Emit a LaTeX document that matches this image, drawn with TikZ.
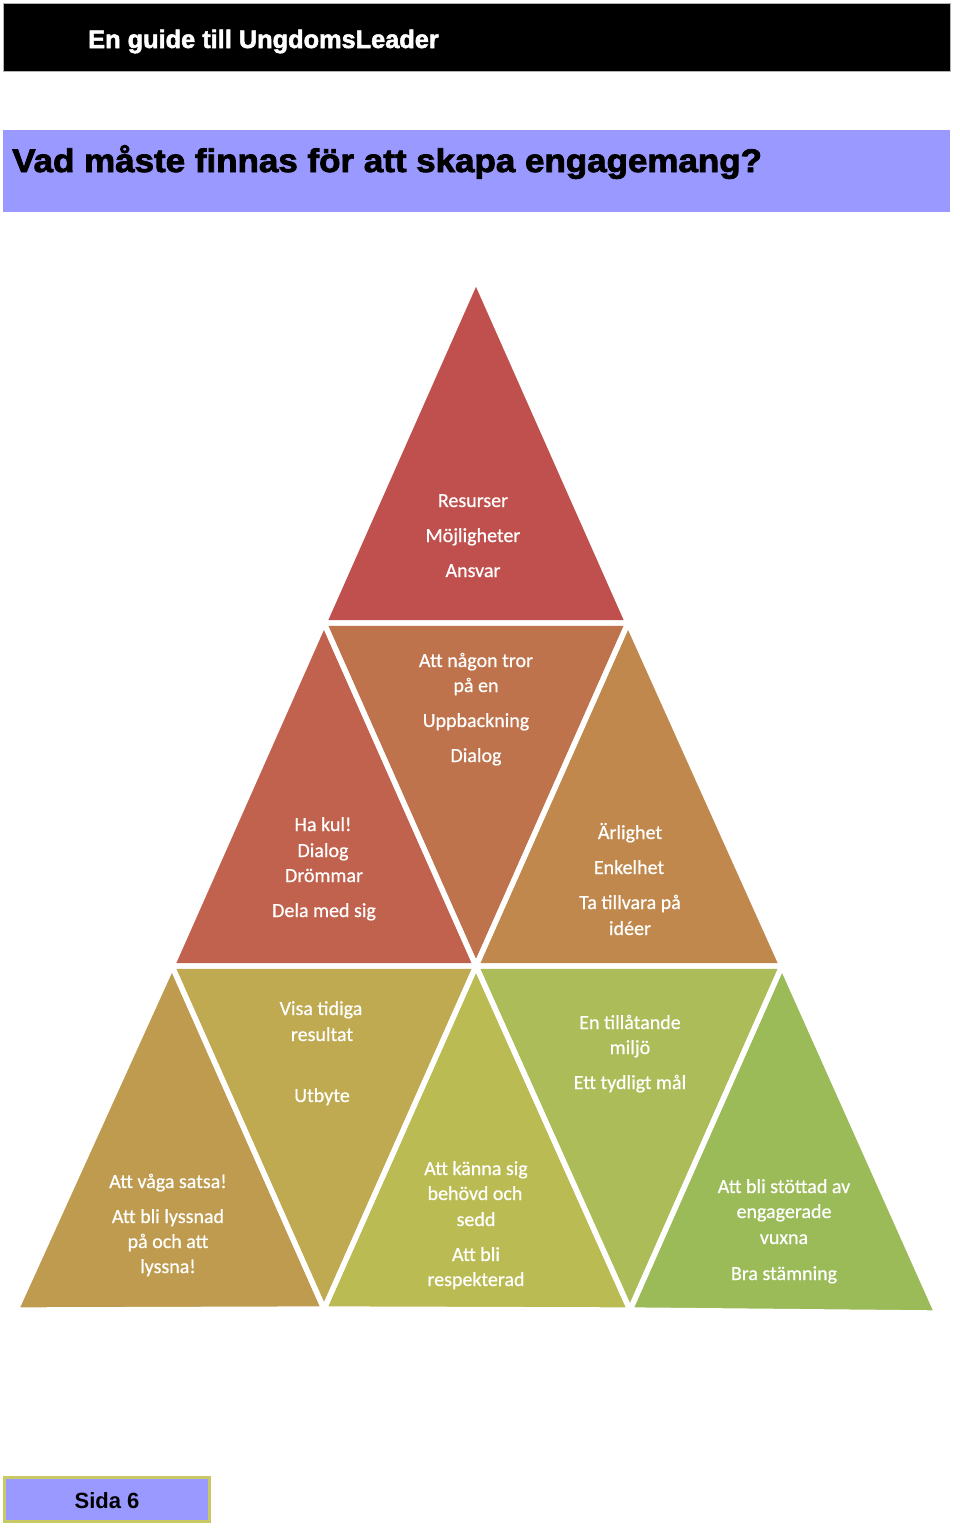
\documentclass[tikz,border=0pt]{standalone}
\usepackage{fontspec}
\setmainfont{Liberation Sans}
\newfontfamily\carlito{Carlito}[FakeBold=0.6]
\newfontfamily\hdrfont{Liberation Sans}[FakeStretch=1.0,FakeBold=2]
\newfontfamily\titlefont{Liberation Sans}[FakeStretch=1.07,FakeBold=2.5]
\definecolor{bandblue}{HTML}{9999FF}
\definecolor{footolive}{HTML}{C8C864}
\definecolor{cA}{HTML}{C0504D}
\definecolor{cB}{HTML}{C0624D}
\definecolor{cC}{HTML}{BF734D}
\definecolor{cD}{HTML}{C0884D}
\definecolor{cE}{HTML}{BE9B4F}
\definecolor{cF}{HTML}{BFA951}
\definecolor{cG}{HTML}{BABB53}
\definecolor{cH}{HTML}{ACBC58}
\definecolor{cI}{HTML}{9BBB59}
\tikzset{
  sep/.style={draw=white, line width=4pt, line join=round},
  lbl/.style={font=\carlito\fontsize{15}{18}\selectfont, text=white, anchor=base, inner sep=0pt},
}
\begin{document}
\begin{tikzpicture}[x=0.75pt,y=-0.75pt]
\useasboundingbox (0,0) rectangle (960,1528);
\fill[white] (0,0) rectangle (960,1528);
% header
\draw[fill=black, draw=gray!60, line width=0.75pt] (3,3) rectangle (950,71);
\node[anchor=base west, inner sep=0pt, text=white, font=\hdrfont\bfseries\fontsize{19}{21}\selectfont] (hdr) at (88,48) {En guide till UngdomsLeader};
% title band
\fill[bandblue] (3,130) rectangle (950,212);
\node[anchor=base west, inner sep=0pt, text=black, font=\titlefont\bfseries\fontsize{24.5}{28}\selectfont] (ttl) at (12,172) {Vad måste finnas för att skapa engagemang?};
% lattice points
\coordinate (p00) at (476,280);
\coordinate (p10) at (324,623);
\coordinate (p11) at (628,623);
\coordinate (p20) at (172,966);
\coordinate (p21) at (476,966);
\coordinate (p22) at (782,966);
\coordinate (p30) at (16,1310);
\coordinate (p31) at (324,1309);
\coordinate (p32) at (630,1310);
\coordinate (p33) at (937,1313);
% fills
\fill[cA] (p00) -- (p10) -- (p11) -- cycle;
\fill[cB] (p10) -- (p20) -- (p21) -- cycle;
\fill[cC] (p10) -- (p11) -- (p21) -- cycle;
\fill[cD] (p11) -- (p21) -- (p22) -- cycle;
\fill[cE] (p20) -- (p30) -- (p31) -- cycle;
\fill[cF] (p20) -- (p21) -- (p31) -- cycle;
\fill[cG] (p21) -- (p31) -- (p32) -- cycle;
\fill[cH] (p21) -- (p22) -- (p32) -- cycle;
\fill[cI] (p22) -- (p32) -- (p33) -- cycle;
% separators
\draw[sep] (p00) -- (p10) -- (p11) -- cycle;
\draw[sep] (p10) -- (p20) -- (p21) -- cycle;
\draw[sep] (p10) -- (p11) -- (p21) -- cycle;
\draw[sep] (p11) -- (p21) -- (p22) -- cycle;
\draw[sep] (p20) -- (p30) -- (p31) -- cycle;
\draw[sep] (p20) -- (p21) -- (p31) -- cycle;
\draw[sep] (p21) -- (p31) -- (p32) -- cycle;
\draw[sep] (p21) -- (p22) -- (p32) -- cycle;
\draw[sep] (p22) -- (p32) -- (p33) -- cycle;
% top triangle
\node[lbl] (a1) at (473,507) {Resurser};
\node[lbl] (a2) at (473,542) {Möjligheter};
\node[lbl] (a3) at (473,577) {Ansvar};
% row 2 inverted
\node[lbl] (c1) at (476,667) {Att någon tror};
\node[lbl] (c2) at (476,692) {på en};
\node[lbl] (c3) at (476,727) {Uppbackning};
\node[lbl] (c4) at (476,762) {Dialog};
% row 2 left
\node[lbl] (b1) at (323,831) {Ha kul!};
\node[lbl] (b2) at (323,857) {Dialog};
\node[lbl] (b3) at (324,882) {Drömmar};
\node[lbl] (b4) at (324,917) {Dela med sig};
% row 2 right
\node[lbl] (d1) at (630,839) {Ärlighet};
\node[lbl] (d2) at (629,874) {Enkelhet};
\node[lbl] (d3) at (630,909) {Ta tillvara på};
\node[lbl] (d4) at (630,935) {idéer};
% row 3 left
\node[lbl] (e1) at (168,1188) {Att våga satsa!};
\node[lbl] (e2) at (168,1223) {Att bli lyssnad};
\node[lbl] (e3) at (168,1248) {på och att};
\node[lbl] (e4) at (168,1273) {lyssna!};
% row 3 inverted left
\node[lbl] (f1) at (321,1015) {Visa tidiga};
\node[lbl] (f2) at (322,1041) {resultat};
\node[lbl] (f3) at (322,1102) {Utbyte};
% row 3 middle
\node[lbl] (g1) at (476,1175) {Att känna sig};
\node[lbl] (g2) at (475,1200) {behövd och};
\node[lbl] (g3) at (476,1226) {sedd};
\node[lbl] (g4) at (476,1261) {Att bli};
\node[lbl] (g5) at (476,1286) {respekterad};
% row 3 inverted right
\node[lbl] (h1) at (630,1029) {En tillåtande};
\node[lbl] (h2) at (630,1054) {miljö};
\node[lbl] (h3) at (630,1089) {Ett tydligt mål};
% row 3 right
\node[lbl] (i1) at (784,1193) {Att bli stöttad av};
\node[lbl] (i2) at (784,1218) {engagerade};
\node[lbl] (i3) at (784,1244) {vuxna};
\node[lbl] (i4) at (784,1280) {Bra stämning};
% footer
\draw[fill=bandblue, draw=footolive, line width=2.25pt] (4,1477) rectangle (209,1521);
\node[anchor=base, inner sep=0pt, text=black, font=\bfseries\fontsize{16.5}{18}\selectfont] (ftr) at (107,1508) {Sida 6};
\end{tikzpicture}
\end{document}
